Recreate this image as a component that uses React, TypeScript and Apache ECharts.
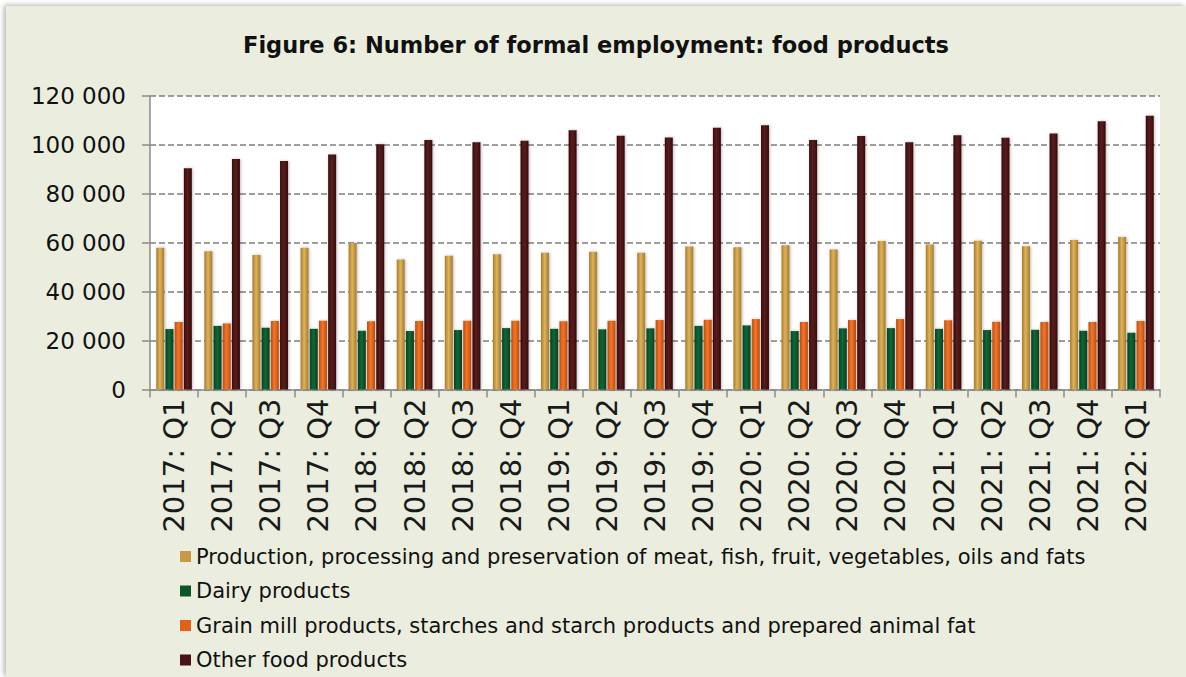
import React, { useEffect, useRef } from "react";
import * as echarts from "echarts";

const categories = [
  "2017: Q1", "2017: Q2", "2017: Q3", "2017: Q4",
  "2018: Q1", "2018: Q2", "2018: Q3", "2018: Q4",
  "2019: Q1", "2019: Q2", "2019: Q3", "2019: Q4",
  "2020: Q1", "2020: Q2", "2020: Q3", "2020: Q4",
  "2021: Q1", "2021: Q2", "2021: Q3", "2021: Q4",
  "2022: Q1",
];

const seriesNames = [
  "Production, processing and preservation of meat, fish, fruit, vegetables, oils and fats",
  "Dairy products",
  "Grain mill products, starches and starch products and prepared animal fat",
  "Other food products",
];

const meatValues = [
  58000, 56500, 55000, 58000, 59900, 53200, 54700, 55300, 55900, 56300, 55900,
  58500, 58200, 59000, 57200, 60700, 59300, 60800, 58600, 61100, 62300,
];
const dairyValues = [
  24700, 26000, 25200, 24800, 24000, 23900, 24300, 25100, 24800, 24600, 25000,
  26000, 26200, 23900, 25000, 25100, 24800, 24300, 24400, 24000, 23200,
];
const grainValues = [
  27600, 27000, 28000, 28100, 27900, 28000, 28100, 28100, 27900, 28100, 28400,
  28500, 28800, 27600, 28400, 28800, 28300, 27700, 27600, 27600, 28000,
];
const otherValues = [
  90500, 94200, 93400, 96100, 100300, 102000, 101100, 101700, 106000, 103700, 103000,
  107000, 108000, 102000, 103600, 101100, 104000, 102900, 104700, 109700, 111900,
];

const yTicks = [0, 20000, 40000, 60000, 80000, 100000, 120000];

const FONT = "DejaVu Sans";

function grad(edge: string, mid: string) {
  return new echarts.graphic.LinearGradient(0, 0, 1, 0, [
    { offset: 0, color: edge },
    { offset: 0.45, color: mid },
    { offset: 1, color: edge },
  ]);
}

export default function App() {
  const ref = useRef<HTMLDivElement>(null);
  useEffect(() => {
    if (!ref.current) return;
    const chart = echarts.init(ref.current, undefined, { renderer: "svg" });
    const colors = ["#C89A45", "#0C5527", "#E2601A", "#4A1313"];
    const fills = [
      grad("#A87A2C", "#DDB35C"),
      grad("#07401C", "#12683A"),
      grad("#C0490E", "#F27828"),
      grad("#350C0C", "#5C1C1C"),
    ];
    const data = [meatValues, dairyValues, grainValues, otherValues];
    chart.setOption({
      animation: false,
      backgroundColor: "#EBEEDE",
      title: {
        text: "Figure 6: Number of formal employment: food products",
        left: "center",
        top: 27,
        padding: 0,
        textStyle: { fontFamily: FONT, fontSize: 22.5, fontWeight: "bold", color: "#111" },
      },
      legend: {
        orient: "vertical",
        left: 174,
        top: 539.5,
        padding: 0,
        itemWidth: 11,
        itemHeight: 11,
        itemGap: 12.5,
        icon: "rect",
        textStyle: { fontFamily: FONT, fontSize: 21, color: "#111", lineHeight: 22 },
        data: seriesNames.map((n, i) => ({ name: n, itemStyle: { color: colors[i] } })),
      },
      grid: { left: 144, right: 26, top: 90, bottom: 287.5, backgroundColor: "#FFFFFF", show: true, borderWidth: 0 },
      xAxis: {
        type: "category",
        data: categories,
        axisLine: { lineStyle: { color: "#8C8C8C", width: 1.5 } },
        axisTick: { show: true, length: 8, interval: 0, lineStyle: { color: "#8C8C8C", width: 1.5 } },
        axisLabel: { rotate: 90, interval: 0, margin: 9, fontFamily: FONT, fontSize: 29, color: "#1a1a1a" },
      },
      yAxis: {
        type: "value",
        min: 0,
        max: 120000,
        interval: 20000,
        axisLine: { show: true, lineStyle: { color: "#8C8C8C", width: 1.5 } },
        axisTick: { show: true, length: 8, lineStyle: { color: "#8C8C8C", width: 1.5 } },
        splitLine: { lineStyle: { color: "#7F7F7F", width: 1.5, type: [6, 3] } },
        axisLabel: {
          margin: 24,
          fontFamily: FONT,
          fontSize: 23,
          color: "#111",
          formatter: (v: number) => (yTicks.includes(v) ? String(v).replace(/\B(?=(\d{3})+(?!\d))/g, " ") : ""),
        },
      },
      series: seriesNames.map((n, i) => ({
        name: n,
        type: "bar",
        data: data[i],
        barWidth: 8,
        barGap: "15%",
        itemStyle: { color: fills[i], shadowColor: "rgba(0,0,0,0.25)", shadowBlur: 3, shadowOffsetX: 1 },
      })),
    });
    return () => chart.dispose();
  }, []);
  return (
    <div style={{ position: "fixed", left: 0, top: 0, width: 1186, height: 677, background: "#FFFFFF", overflow: "hidden" }}>
      <div
        ref={ref}
        style={{ position: "absolute", left: 6, top: 6, width: 1180, height: 671, boxShadow: "-2px -1px 5px rgba(0,0,0,0.3)" }}
      />
    </div>
  );
}
